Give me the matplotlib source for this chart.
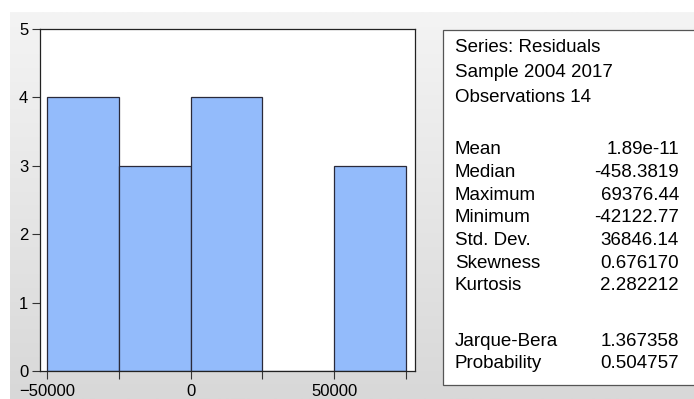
import numpy as np
import matplotlib.pyplot as plt
from matplotlib.colors import LinearSegmentedColormap
from matplotlib.patches import Rectangle

plt.rcParams['font.family'] = ['Liberation Sans', 'DejaVu Sans']

# histogram of residuals
bin_left = [-50000, -25000, 0, 25000, 50000]
counts = [4, 3, 4, 0, 3]
bin_width = 25000

header = ['Series: Residuals', 'Sample 2004 2017', 'Observations 14']
stat_names = ['Mean', 'Median', 'Maximum', 'Minimum', 'Std. Dev.',
              'Skewness', 'Kurtosis']
stat_values = ['1.89e-11', '-458.3819', '69376.44', '-42122.77', '36846.14',
               '0.676170', '2.282212']
test_names = ['Jarque-Bera', 'Probability']
test_values = ['1.367358', '0.504757']

W, H = 694, 399
fig = plt.figure(figsize=(W / 100, H / 100), dpi=100)
fig.patch.set_facecolor('white')

def fx(px): return px / W
def fy(py): return 1 - py / H

# gray gradient panel behind everything
bg = fig.add_axes([fx(10), 0, 1 - fx(10), fy(12)], zorder=0)
grad = np.linspace(0, 1, 256).reshape(-1, 1)
bg.imshow(grad, aspect='auto', extent=[0, 1, 0, 1], origin='upper',
          cmap=LinearSegmentedColormap.from_list('g', ['#f4f4f4', '#d8d8d8']))
bg.set_axis_off()

ax = fig.add_axes([fx(40), fy(371), fx(415) - fx(40), fy(29) - fy(371)], zorder=1)
ax.bar(bin_left, counts, width=bin_width, align='edge', color='#93bbfb',
       edgecolor='#2a2a3a', linewidth=0.9)
ax.set_xlim(-52440, 78200)
ax.set_ylim(0, 5)
ax.set_xticks([-50000, 0, 50000])
ax.set_xticks([-25000, 25000, 75000], minor=True)
ax.set_yticks(range(6))
ax.tick_params(axis='both', which='both', direction='out', labelsize=12,
               color='#333333', length=5.5, width=0.8)
ax.tick_params(axis='x', pad=4)
ax.tick_params(axis='y', pad=3)
for s in ax.spines.values():
    s.set_linewidth(0.9)
    s.set_color('#222222')

# statistics box
box = Rectangle((fx(443), fy(385)), 1.0, fy(30) - fy(385), transform=fig.transFigure,
                facecolor='white', edgecolor='#555555', linewidth=0.9, zorder=2)
fig.patches.append(box)

fs = 13.5
y = 48
for line in header:
    fig.text(fx(455), fy(y), line, fontsize=fs, va='center', ha='left', zorder=3)
    y += 24.5
y = 150
for name, val in zip(stat_names, stat_values):
    fig.text(fx(455), fy(y), name, fontsize=fs, va='center', ha='left', zorder=3)
    fig.text(fx(679), fy(y), val, fontsize=fs, va='center', ha='right', zorder=3)
    y += 22.6
y = 341
for name, val in zip(test_names, test_values):
    fig.text(fx(455), fy(y), name, fontsize=fs, va='center', ha='left', zorder=3)
    fig.text(fx(679), fy(y), val, fontsize=fs, va='center', ha='right', zorder=3)
    y += 23

fig.savefig('out.png', dpi=100)
